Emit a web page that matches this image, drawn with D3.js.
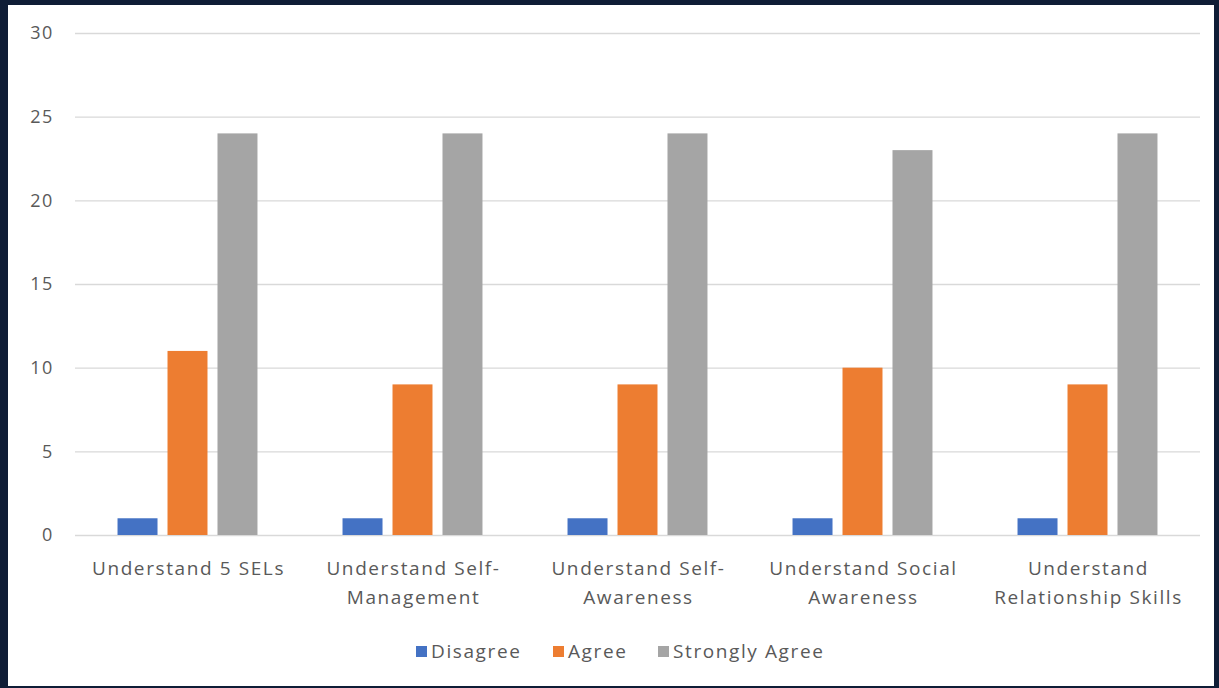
<!DOCTYPE html>
<html>
<head>
<meta charset="utf-8">
<script src="https://cdn.jsdelivr.net/npm/d3@7"></script>
<style>
  body { margin: 0; background: #0f1d36; }
  text { font-family: "Open Sans", sans-serif; fill: #595959; letter-spacing: 1.6px; }
</style>
</head>
<body>
<div id="chart"></div>
<script>
// data
var categories = [
    "Understand 5 SELs",
    "Understand Self-Management",
    "Understand Self-Awareness",
    "Understand Social Awareness",
    "Understand Relationship Skills"
];
var categoryLines = [
    ["Understand 5 SELs"],
    ["Understand Self-", "Management"],
    ["Understand Self-", "Awareness"],
    ["Understand Social", "Awareness"],
    ["Understand", "Relationship Skills"]
];
var seriesNames = ["Disagree", "Agree", "Strongly Agree"];
var disagree = [1, 1, 1, 1, 1];
var agree = [11, 9, 9, 10, 9];
var stronglyAgree = [24, 24, 24, 23, 24];
var yTicks = [0, 5, 10, 15, 20, 25, 30];
var colors = ["#4472c4", "#ed7d31", "#a5a5a5"];

var W = 1219, H = 688;
var margin = {top: 33, left: 75, right: 19, bottom: 153};
var width = W - margin.left - margin.right,
    height = H - margin.top - margin.bottom;

var svg = d3.select("#chart").append("svg")
    .attr("width", W)
    .attr("height", H);

// dark frame + white card
svg.append("rect").attr("width", W).attr("height", H).attr("fill", "#0f1d36");
svg.append("rect")
    .attr("x", 8).attr("y", 5)
    .attr("width", 1206).attr("height", 681)
    .attr("fill", "#ffffff");

var main = svg.append("g")
    .attr("transform", "translate(" + margin.left + "," + margin.top + ")");

var x0 = d3.scaleBand()
    .domain(categories)
    .range([0, width])
    .paddingInner(0.378)
    .paddingOuter(0.189);

var x1 = d3.scaleBand()
    .domain(seriesNames)
    .range([0, x0.bandwidth()])
    .paddingInner(0.2);

var y = d3.scaleLinear()
    .domain([0, 30])
    .range([height, 0]);

// gridlines
main.append("g")
    .selectAll("line")
    .data(yTicks)
    .enter().append("line")
    .attr("x1", 0)
    .attr("x2", width)
    .attr("y1", function (d) { return y(d) + 0.5; })
    .attr("y2", function (d) { return y(d) + 0.5; })
    .attr("stroke", "#d9d9d9")
    .attr("stroke-width", 1.3);

// y axis labels
var yAxis = main.append("g")
    .call(d3.axisLeft(y).tickValues(yTicks).tickSize(0).tickPadding(21));
yAxis.select(".domain").remove();
yAxis.selectAll("text")
    .style("font-size", "18px")
    .style("font-family", "Open Sans, sans-serif")
    .attr("fill", "#595959");

// bars
var rows = categories.map(function (c, i) {
    return {cat: c, values: [disagree[i], agree[i], stronglyAgree[i]]};
});

var groups = main.selectAll(".group")
    .data(rows)
    .enter().append("g")
    .attr("class", "group")
    .attr("transform", function (d) { return "translate(" + x0(d.cat) + ",0)"; });

groups.selectAll("rect")
    .data(function (d) {
        return d.values.map(function (v, j) { return {key: seriesNames[j], value: v, j: j}; });
    })
    .enter().append("rect")
    .attr("x", function (d) { return x1(d.key); })
    .attr("y", function (d) { return y(d.value); })
    .attr("width", x1.bandwidth())
    .attr("height", function (d) { return height - y(d.value); })
    .attr("fill", function (d) { return colors[d.j]; });

// category labels
var catLabels = main.append("g")
    .selectAll("text")
    .data(categories)
    .enter().append("text")
    .attr("x", function (d) { return x0(d) + x0.bandwidth() / 2 + 1; })
    .attr("y", height + 40)
    .attr("text-anchor", "middle")
    .style("font-size", "19px");

catLabels.selectAll("tspan")
    .data(function (d, i) { return categoryLines[i]; })
    .enter().append("tspan")
    .attr("x", function () { return d3.select(this.parentNode).attr("x"); })
    .attr("dy", function (d, i) { return i === 0 ? 0 : 29; })
    .text(function (d) { return d; });

// legend
var legendX = [416, 553, 658];
var legend = svg.append("g")
    .selectAll("g")
    .data(seriesNames)
    .enter().append("g")
    .attr("transform", function (d, i) { return "translate(" + legendX[i] + ",646)"; });

legend.append("rect")
    .attr("width", 11)
    .attr("height", 11)
    .attr("fill", function (d, i) { return colors[i]; });

legend.append("text")
    .attr("x", 15)
    .attr("y", 12)
    .style("font-size", "19px")
    .text(function (d) { return d; });
</script>
</body>
</html>
